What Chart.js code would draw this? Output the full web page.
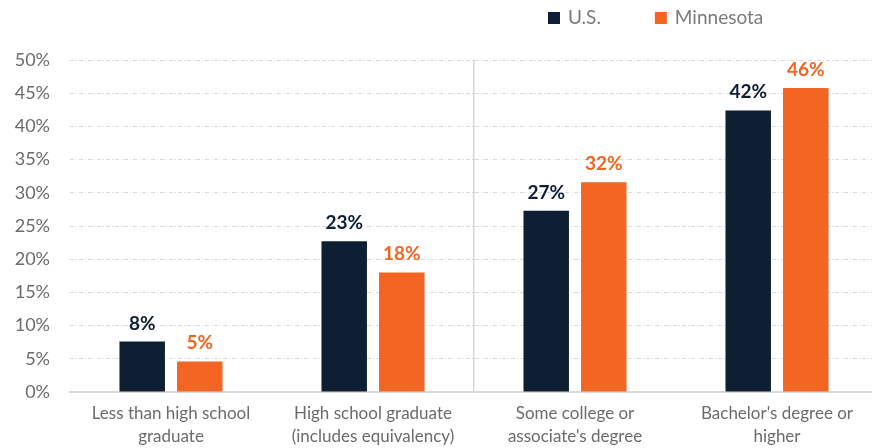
<!DOCTYPE html>
<html>
<head>
<meta charset="utf-8">
<script src="https://cdn.jsdelivr.net/npm/chart.js@4"></script>
<style>
  html, body { margin: 0; padding: 0; background: #fff; overflow: hidden; }
  #wrap { width: 878px; height: 448px; }
</style>
</head>
<body>
<div id="wrap"><canvas id="eduChart"></canvas></div>
<script>
const categories = [
  ['Less than high school', 'graduate'],
  ['High school graduate', '(includes equivalency)'],
  ['Some college or', "associate's degree"],
  ["Bachelor's degree or", 'higher']
];
const usValues = [7.6, 22.7, 27.3, 42.4];
const mnValues = [4.6, 18.0, 31.6, 45.8];
const seriesNames = ['U.S.', 'Minnesota'];
const seriesColors = ['#0E1F34', '#F26522'];

const FONT = 'Lato, "Open Sans", sans-serif';

// value labels above every bar
const barLabels = {
  id: 'barLabels',
  afterDatasetsDraw(chart) {
    const ctx = chart.ctx;
    ctx.save();
    ctx.font = 'bold 19px ' + FONT;
    ctx.textAlign = 'center';
    ctx.textBaseline = 'alphabetic';
    chart.data.datasets.forEach((ds, i) => {
      chart.getDatasetMeta(i).data.forEach((bar, j) => {
        ctx.fillStyle = ds.backgroundColor;
        ctx.fillText(Math.round(ds.data[j]) + '%', bar.x, bar.y - 12);
      });
    });
    ctx.restore();
  }
};

// legend row at the top right
const topLegend = {
  id: 'topLegend',
  afterDraw(chart) {
    const ctx = chart.ctx;
    ctx.save();
    ctx.font = '19px ' + FONT;
    ctx.textBaseline = 'middle';
    let x = 548;
    const y = 18;
    chart.data.datasets.forEach(ds => {
      ctx.fillStyle = ds.backgroundColor;
      ctx.fillRect(x, y - 6, 12, 12);
      ctx.fillStyle = '#7a7a7a';
      ctx.fillText(ds.label, x + 20, y);
      x += 20 + ctx.measureText(ds.label).width + 54;
    });
    ctx.restore();
  }
};

new Chart(document.getElementById('eduChart'), {
  type: 'bar',
  data: {
    labels: categories,
    datasets: [
      { label: seriesNames[0], data: usValues, backgroundColor: seriesColors[0] },
      { label: seriesNames[1], data: mnValues, backgroundColor: seriesColors[1] }
    ]
  },
  options: {
    responsive: true,
    maintainAspectRatio: false,
    animation: false,
    barPercentage: 0.79,
    categoryPercentage: 0.57,
    layout: { padding: { top: 60, left: 0, right: 0, bottom: 0 } },
    plugins: {
      legend: { display: false },
      tooltip: { enabled: false }
    },
    scales: {
      x: {
        grid: {
          offset: true,
          drawTicks: false,
          lineWidth: 1.5,
          color: c => (c.index === 2 ? '#d6d6d6' : 'rgba(0,0,0,0)')
        },
        border: { display: true, color: '#d9d9d9', width: 2 },
        ticks: {
          color: '#6b6b6b',
          padding: 10,
          maxRotation: 0,
          font: { family: FONT, size: 17, lineHeight: 1.35 }
        },
        afterFit(scale) { scale.height = 56; }
      },
      y: {
        min: 0,
        max: 50,
        grid: { color: '#d9d9d9', lineWidth: 1, drawTicks: false },
        border: { display: false, dash: [4, 2, 1, 2] },
        ticks: {
          stepSize: 5,
          color: '#6b6b6b',
          padding: 20,
          font: { family: FONT, size: 18 },
          callback: v => v + '%'
        },
        afterFit(scale) { scale.width = 70; }
      }
    }
  },
  plugins: [barLabels, topLegend]
});
</script>
</body>
</html>
